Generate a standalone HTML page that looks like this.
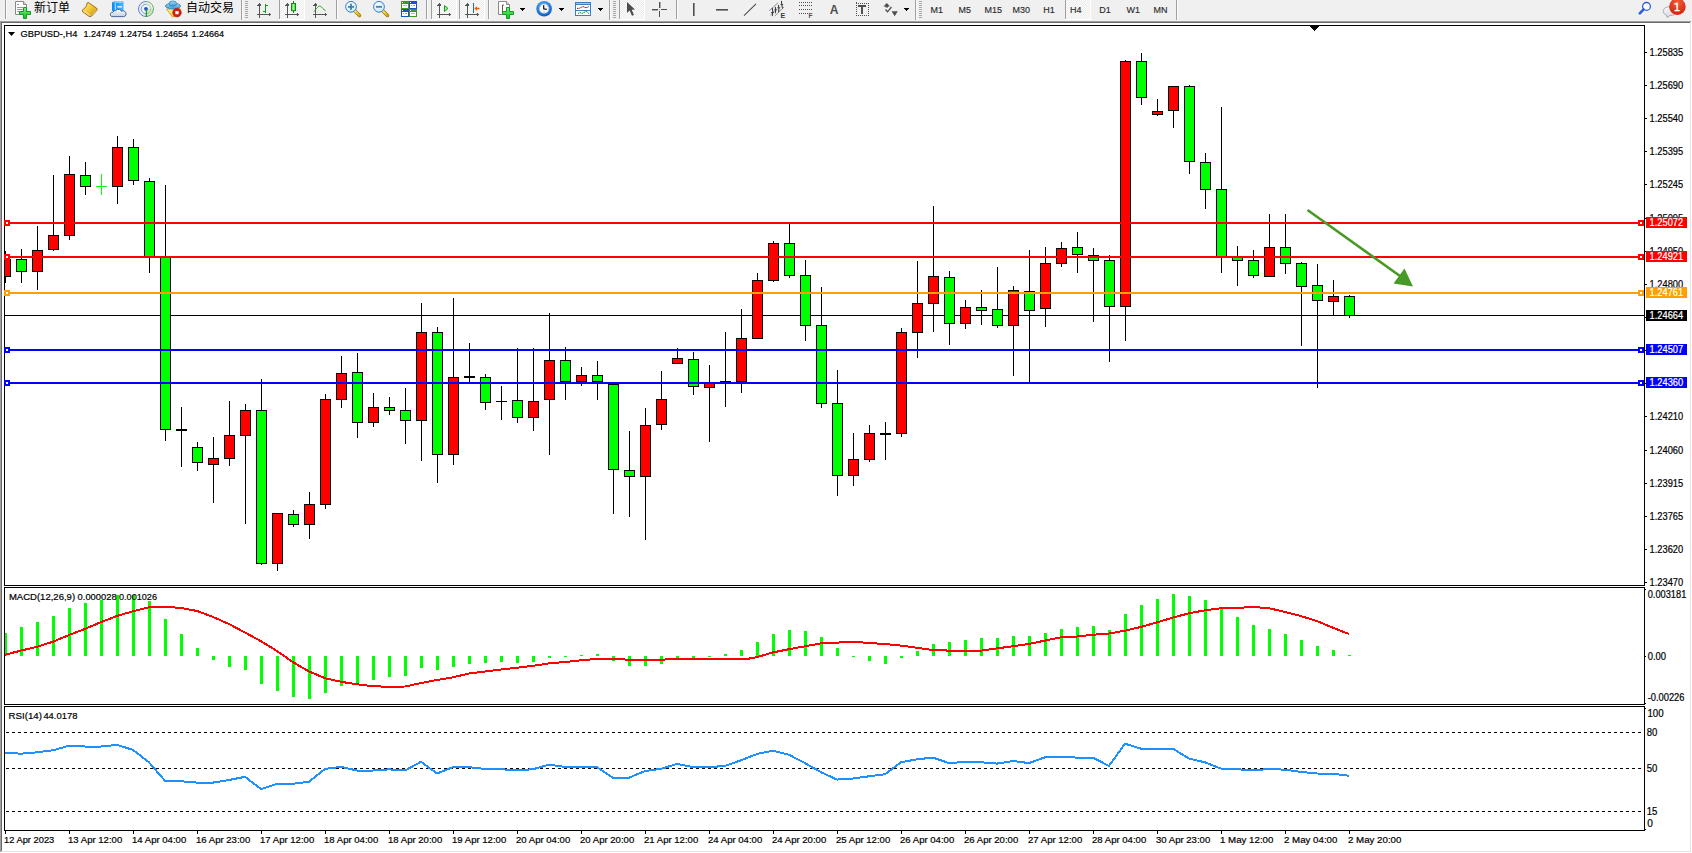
<!DOCTYPE html>
<html><head><meta charset="utf-8"><title>MetaTrader - GBPUSD-,H4</title>
<style>
html,body{margin:0;padding:0;width:1692px;height:853px;overflow:hidden;background:#f0f0f0}
svg{display:block;position:absolute;left:0;top:0}
</style></head><body>
<svg width="1692" height="853" viewBox="0 0 1692 853">
<rect x="0" y="0" width="1692" height="853" fill="#f0f0f0"/>
<g id="toolbar">
<defs>
<pattern id="chk" width="2" height="2" patternUnits="userSpaceOnUse"><rect width="2" height="2" fill="#ececec"/><rect width="1" height="1" fill="#fdfdfd"/><rect x="1" y="1" width="1" height="1" fill="#fdfdfd"/></pattern>
<linearGradient id="gPlus" x1="0" y1="0" x2="0" y2="1"><stop offset="0" stop-color="#7af27a"/><stop offset="1" stop-color="#0fbf1f"/></linearGradient>
<linearGradient id="gGold" x1="0" y1="0" x2="1" y2="1"><stop offset="0" stop-color="#fff0a0"/><stop offset="0.5" stop-color="#f0c830"/><stop offset="1" stop-color="#c08a18"/></linearGradient>
<linearGradient id="gBox" x1="0" y1="0" x2="1" y2="0"><stop offset="0" stop-color="#0a8cf0"/><stop offset="1" stop-color="#46b4ff"/></linearGradient>
<linearGradient id="gCloud" x1="0" y1="0" x2="0" y2="1"><stop offset="0" stop-color="#ffffff"/><stop offset="1" stop-color="#c3cde0"/></linearGradient>
<linearGradient id="gHat" x1="0" y1="0" x2="0" y2="1"><stop offset="0" stop-color="#a8dcf8"/><stop offset="1" stop-color="#3c98d0"/></linearGradient>
<linearGradient id="gCone" x1="0" y1="0" x2="0" y2="1"><stop offset="0" stop-color="#fff4a0"/><stop offset="1" stop-color="#f0c820"/></linearGradient>
<linearGradient id="gCandle" x1="0" y1="0" x2="1" y2="0"><stop offset="0" stop-color="#30d030"/><stop offset="0.5" stop-color="#a0ffa0"/><stop offset="1" stop-color="#20c020"/></linearGradient>
<radialGradient id="gLens" cx="0.4" cy="0.35" r="0.7"><stop offset="0" stop-color="#ffffff"/><stop offset="1" stop-color="#bfe6fb"/></radialGradient>
<linearGradient id="gHandle" x1="0" y1="0" x2="1" y2="1"><stop offset="0" stop-color="#fff27a"/><stop offset="1" stop-color="#d6a800"/></linearGradient>
<radialGradient id="gClock" cx="0.45" cy="0.35" r="0.65"><stop offset="0" stop-color="#5ec0ff"/><stop offset="1" stop-color="#0a5cc8"/></radialGradient>
<radialGradient id="gBadge" cx="0.5" cy="0.25" r="0.8"><stop offset="0" stop-color="#f0603a"/><stop offset="1" stop-color="#d21e08"/></radialGradient>
<linearGradient id="gBubble" x1="0" y1="0" x2="0" y2="1"><stop offset="0" stop-color="#fafafa"/><stop offset="1" stop-color="#d4d6e6"/></linearGradient>
</defs>
<rect x="0" y="20" width="1692" height="1" fill="#f7f7f7"/>

<!-- separators -->
<g shape-rendering="crispEdges" fill="#a0a0a0">
<rect x="5" y="0" width="1" height="19"/>
<rect x="241" y="0" width="1" height="21"/>
<rect x="336" y="0" width="1" height="19"/>
<rect x="426" y="0" width="1" height="19"/>
<rect x="488" y="0" width="1" height="19"/>
<rect x="609" y="0" width="1" height="21"/>
<rect x="676" y="0" width="1" height="19"/>
<rect x="915" y="0" width="1" height="21"/>
<rect x="1176" y="0" width="1" height="21"/>
</g>
<g shape-rendering="crispEdges" fill="#fbfbfb">
<rect x="6" y="0" width="1" height="19"/>
<rect x="242" y="0" width="1" height="20"/>
<rect x="337" y="0" width="1" height="19"/>
<rect x="427" y="0" width="1" height="19"/>
<rect x="489" y="0" width="1" height="19"/>
<rect x="610" y="0" width="1" height="20"/>
<rect x="677" y="0" width="1" height="19"/>
<rect x="916" y="0" width="1" height="20"/>
<rect x="1177" y="0" width="1" height="20"/>
</g>
<!-- grips -->
<g shape-rendering="crispEdges" fill="#a8a8a8">
<path d="M245 1h3v1h-3zM245 3h3v1h-3zM245 5h3v1h-3zM245 7h3v1h-3zM245 9h3v1h-3zM245 11h3v1h-3zM245 13h3v1h-3zM245 15h3v1h-3zM245 17h3v1h-3z"/>
<path d="M613 1h3v1h-3zM613 3h3v1h-3zM613 5h3v1h-3zM613 7h3v1h-3zM613 9h3v1h-3zM613 11h3v1h-3zM613 13h3v1h-3zM613 15h3v1h-3zM613 17h3v1h-3z"/>
<path d="M919 1h3v1h-3zM919 3h3v1h-3zM919 5h3v1h-3zM919 7h3v1h-3zM919 9h3v1h-3zM919 11h3v1h-3zM919 13h3v1h-3zM919 15h3v1h-3zM919 17h3v1h-3z"/>
</g>
<!-- pressed buttons -->
<g shape-rendering="crispEdges">
<rect x="279" y="0" width="25" height="19" fill="url(#chk)"/><rect x="279" y="0" width="1" height="19" fill="#a0a0a0"/><rect x="279" y="19" width="26" height="1" fill="#fff"/><rect x="304" y="0" width="1" height="20" fill="#fff"/>
<rect x="431" y="0" width="25" height="19" fill="url(#chk)"/><rect x="431" y="0" width="1" height="19" fill="#a0a0a0"/><rect x="431" y="19" width="26" height="1" fill="#fff"/><rect x="456" y="0" width="1" height="20" fill="#fff"/>
<rect x="459" y="0" width="25" height="19" fill="url(#chk)"/><rect x="459" y="0" width="1" height="19" fill="#a0a0a0"/><rect x="459" y="19" width="26" height="1" fill="#fff"/><rect x="484" y="0" width="1" height="20" fill="#fff"/>
<rect x="619" y="0" width="25" height="19" fill="url(#chk)"/><rect x="619" y="0" width="1" height="19" fill="#a0a0a0"/><rect x="619" y="19" width="26" height="1" fill="#fff"/><rect x="644" y="0" width="1" height="20" fill="#fff"/>
<rect x="1065" y="0" width="25" height="19" fill="url(#chk)"/><rect x="1065" y="0" width="1" height="19" fill="#a0a0a0"/><rect x="1065" y="19" width="26" height="1" fill="#fff"/><rect x="1090" y="0" width="1" height="20" fill="#fff"/>
</g>

<!-- New order icon -->
<g>
<path d="M15.5 1.5h8l3 3v10h-11z" fill="#fff" stroke="#8a8a8a"/>
<path d="M23.5 1.5v3h3" fill="#ddd" stroke="#8a8a8a"/>
<path d="M17 4h2v1h-2zM17 7h6v1h-6zM17 9h6v1h-6zM17 11h5v1h-5z" fill="#9a9a9a"/>
<path d="M23.5 7.5h3v4h4v3h-4v4h-3v-4h-4v-3h4z" fill="url(#gPlus)" stroke="#169a2a"/>
</g>
<text x="34" y="12.2" font-family='"Liberation Sans","Noto Sans CJK SC",sans-serif' font-size="12px" fill="#000">新订单</text>

<!-- gold book -->
<g>
<path d="M88 2.3 L96.6 8.2 Q97.6 9.2 96.8 10.4 L91.6 16.1 Q90.3 17.1 89 16.3 L82.8 11.9 Q81.8 10.9 82.8 9.8 L85.8 6.8 Q86.8 5.4 87.1 3.1 Z" fill="url(#gGold)" stroke="#9a5c12" stroke-width="0.9"/>
<path d="M83.6 11 L90.2 15.6" stroke="#f8e7a0" stroke-width="1.2" opacity="0.8"/>
<path d="M91.8 15.3 L96.4 10.2" stroke="#efe6c0" stroke-width="1" stroke-dasharray="0.8 0.5"/>
</g>

<!-- blue box with cloud -->
<g>
<path d="M112 2.2 L114.6 1.2 L123.5 1.6 L123.5 11 L112 11 Z" fill="url(#gBox)"/>
<path d="M112 2.2 L114.6 1.2 L123.5 1.6 L121 3.2 Z" fill="#8ad6ff"/>
<path d="M115.3 3.2 v7.5" stroke="#d0f0ff" stroke-width="0.9"/>
<path d="M117.4 6.2h4.6v1.3h-4.6z" fill="#fff"/>
<path d="M111.6 16.6 Q109.8 15.6 110.5 13.4 Q111.2 11.8 113 12.3 Q113.5 10.2 115.8 10.6 Q117.1 8.8 119.5 9.5 Q121.1 9.7 121.5 11.4 Q123.1 9.9 124.7 11.3 Q126.7 12.6 125.9 15.1 Q125.4 16.6 123.5 16.6 Z" fill="url(#gCloud)" stroke="#3e5a94" stroke-width="0.9"/>
</g>

<!-- radar -->
<g fill="none">
<path d="M146 9 L146 17 A8 8 0 0 0 154 9 Z" fill="#b6dcae" opacity="0.55" stroke="none"/>
<path d="M146 1.5 A7.5 7.5 0 0 0 146 16.5" stroke="#3c6fd6" stroke-width="1" opacity="0.85"/>
<path d="M146 1.5 A7.5 7.5 0 0 1 146 16.5" stroke="#58a058" stroke-width="1" opacity="0.85"/>
<path d="M146 4.2 A4.8 4.8 0 0 0 146 13.8" stroke="#4d7fd8" stroke-width="1" opacity="0.7"/>
<path d="M146 4.2 A4.8 4.8 0 0 1 146 13.8" stroke="#8cc48c" stroke-width="1" opacity="0.8"/>
<circle cx="146" cy="8.8" r="1.9" fill="#2450c8"/>
<path d="M146.4 9.3 V17" stroke="#1ca01c" stroke-width="1.3"/>
</g>

<!-- auto trading -->
<g>
<path d="M166.5 9 L180.5 9 L175 16.5 Q173.5 17.5 172 16.5 Z" fill="url(#gCone)" stroke="#c89a20" stroke-width="0.8"/>
<ellipse cx="173" cy="6" rx="7.6" ry="2.8" fill="url(#gHat)" stroke="#2c82bd" stroke-width="0.8"/>
<ellipse cx="172.8" cy="3.6" rx="3.8" ry="2.6" fill="url(#gHat)" stroke="#2c82bd" stroke-width="0.8"/>
<circle cx="177" cy="12.6" r="4.3" fill="#d41f0c" stroke="#b01500" stroke-width="0.6"/>
<rect x="175.4" y="11" width="3.2" height="3.2" fill="#fff"/>
</g>
<text x="186" y="12.2" font-family='"Liberation Sans","Noto Sans CJK SC",sans-serif' font-size="12px" fill="#000">自动交易</text>

<!-- bar chart icon -->
<g shape-rendering="crispEdges" fill="#555">
<rect x="259" y="4" width="1" height="14"/><rect x="257" y="14" width="13" height="1"/>
<path d="M257.5 5.5 L259.5 2.5 L261.5 5.5Z"/><path d="M268.5 12 L271.5 14.5 L268.5 17Z"/>
</g>
<g shape-rendering="crispEdges" fill="#139a13">
<rect x="265" y="4" width="1" height="9"/><rect x="266" y="5" width="2" height="1"/><rect x="263" y="11" width="2" height="1"/>
</g>
<!-- candle icon -->
<g shape-rendering="crispEdges" fill="#555">
<rect x="287" y="4" width="1" height="14"/><rect x="285" y="14" width="13" height="1"/>
<path d="M285.5 5.5 L287.5 2.5 L289.5 5.5Z"/><path d="M296.5 12 L299.5 14.5 L296.5 17Z"/>
</g>
<rect x="293" y="1" width="1" height="12" fill="#0e8e0e" shape-rendering="crispEdges"/>
<rect x="291.5" y="3.5" width="4" height="7.2" fill="url(#gCandle)" stroke="#0e8e0e" stroke-width="1"/>
<!-- line chart icon -->
<g shape-rendering="crispEdges" fill="#555">
<rect x="315" y="4" width="1" height="14"/><rect x="313" y="14" width="13" height="1"/>
<path d="M313.5 5.5 L315.5 2.5 L317.5 5.5Z"/><path d="M324.5 12 L327.5 14.5 L324.5 17Z"/>
</g>
<path d="M314 11.6 C316.5 8.5 318.5 5.5 320.2 6.2 C322 7 323.5 9.8 325.5 10.5" fill="none" stroke="#2ea02e" stroke-width="1"/>

<!-- zoom in / out -->
<g>
<path d="M354.5 10.5 L359.5 15.5" stroke="#a07800" stroke-width="3.4" stroke-linecap="round"/>
<path d="M354.5 10.5 L359.5 15.5" stroke="url(#gHandle)" stroke-width="2" stroke-linecap="round"/>
<circle cx="351" cy="6.8" r="5.4" fill="url(#gLens)" stroke="#3a7fd0" stroke-width="1"/>
<path d="M348 6.8h6M351 3.8v6" stroke="#3f7fa8" stroke-width="1.8"/>
<path d="M382.5 10.5 L387.5 15.5" stroke="#a07800" stroke-width="3.4" stroke-linecap="round"/>
<path d="M382.5 10.5 L387.5 15.5" stroke="url(#gHandle)" stroke-width="2" stroke-linecap="round"/>
<circle cx="379" cy="6.8" r="5.4" fill="url(#gLens)" stroke="#3a7fd0" stroke-width="1"/>
<path d="M376 6.8h6" stroke="#3f7fa8" stroke-width="1.8"/>
</g>

<!-- tile windows -->
<g shape-rendering="crispEdges">
<rect x="401" y="1" width="8" height="8" fill="#3c9a1e"/><rect x="409" y="1" width="8" height="8" fill="#1e4ed0"/>
<rect x="401" y="9" width="8" height="8" fill="#1e4ed0"/><rect x="409" y="9" width="8" height="8" fill="#3c9a1e"/>
<rect x="402" y="2" width="1" height="1" fill="#fff"/><rect x="410" y="2" width="1" height="1" fill="#fff"/>
<rect x="402" y="10" width="1" height="1" fill="#fff"/><rect x="410" y="10" width="1" height="1" fill="#fff"/>
<rect x="402" y="4" width="6" height="4" fill="#fff"/><rect x="410" y="4" width="6" height="4" fill="#fff"/>
<rect x="402" y="12" width="6" height="4" fill="#fff"/><rect x="410" y="12" width="6" height="4" fill="#fff"/>
<rect x="403" y="5" width="4" height="1" fill="#9ad08a"/><rect x="411" y="5" width="1" height="1" fill="#7a9ee8"/><rect x="413" y="5" width="2" height="1" fill="#7a9ee8"/>
<rect x="403" y="13" width="1" height="1" fill="#7a9ee8"/><rect x="405" y="13" width="2" height="1" fill="#7a9ee8"/><rect x="411" y="13" width="4" height="1" fill="#9ad08a"/>
</g>

<!-- autoscroll icon -->
<g shape-rendering="crispEdges" fill="#555">
<rect x="439" y="4" width="1" height="14"/><rect x="437" y="14" width="13" height="1"/>
<path d="M437.5 5.5 L439.5 2.5 L441.5 5.5Z"/><path d="M448.5 12 L451.5 14.5 L448.5 17Z"/>
</g>
<path d="M444.5 5.5 L444.5 11.5 L448 8.5 Z" fill="#9be69b" stroke="#18a018" stroke-width="1"/>
<!-- chart shift icon -->
<g shape-rendering="crispEdges" fill="#555">
<rect x="467" y="4" width="1" height="14"/><rect x="465" y="14" width="13" height="1"/>
<path d="M465.5 5.5 L467.5 2.5 L469.5 5.5Z"/><path d="M476.5 12 L479.5 14.5 L476.5 17Z"/>
</g>
<rect x="473" y="3" width="1" height="10" fill="#1f6fae" shape-rendering="crispEdges"/>
<path d="M474.2 8.5 L477 6.3 L477 7.8 L479.5 7.8 L479.5 9.2 L477 9.2 L477 10.7 Z" fill="#e8600c"/>

<!-- new chart icon -->
<g>
<path d="M498.5 1.5h8l3 3v10h-11z" fill="#fff" stroke="#8a8a8a"/>
<path d="M506.5 1.5v3h3" fill="#ddd" stroke="#8a8a8a"/>
<path d="M502.5 5v7M502.5 5h1.5M502.5 12h1.5" stroke="#6a5a40" stroke-width="1" fill="none"/>
<path d="M506.5 7.5h3v4h4v3h-4v4h-3v-4h-4v-3h4z" fill="url(#gPlus)" stroke="#169a2a"/>
</g>
<!-- dropdown arrows -->
<g fill="#000" shape-rendering="crispEdges">
<path d="M520 8h5v1h-5zM521 9h3v1h-3zM522 10h1v1h-1z"/>
<path d="M559 8h5v1h-5zM560 9h3v1h-3zM561 10h1v1h-1z"/>
<path d="M598 8h5v1h-5zM599 9h3v1h-3zM600 10h1v1h-1z"/>
<path d="M904 8h5v1h-5zM905 9h3v1h-3zM906 10h1v1h-1z"/>
</g>

<!-- clock -->
<g>
<circle cx="544.1" cy="8.7" r="7.8" fill="url(#gClock)"/>
<circle cx="544.1" cy="8.7" r="5.1" fill="#fbfbfb" stroke="#2b6fc0" stroke-width="0.5"/>
<g fill="#9a9a9a"><circle cx="544.1" cy="4.3" r="0.45"/><circle cx="548.5" cy="8.7" r="0.45"/><circle cx="539.7" cy="8.7" r="0.45"/><circle cx="546.3" cy="4.9" r="0.4"/><circle cx="547.9" cy="6.5" r="0.4"/><circle cx="547.9" cy="10.9" r="0.4"/><circle cx="546.3" cy="12.5" r="0.4"/><circle cx="541.9" cy="12.5" r="0.4"/><circle cx="540.3" cy="10.9" r="0.4"/><circle cx="540.3" cy="6.5" r="0.4"/><circle cx="541.9" cy="4.9" r="0.4"/></g>
<path d="M543.6 5.2 L543.8 8.9 L546.8 9.3" fill="none" stroke="#151515" stroke-width="1.3" stroke-linejoin="round"/>
<path d="M543.3 12.1h1.8" stroke="#5ab0f0" stroke-width="0.7"/>
</g>

<!-- template icon -->
<g shape-rendering="crispEdges">
<rect x="575" y="2" width="16" height="14" fill="#3f7cc6"/>
<rect x="576" y="3" width="14" height="1" fill="#9cc6f0"/>
<rect x="576" y="5" width="14" height="5" fill="#fff"/>
<rect x="576" y="11" width="14" height="4" fill="#fff"/>
</g>
<path d="M577 8.4 L579 8.4 L581 7.4 L583 6.5 L585 7.5 L587 7.5 L589 6.5" fill="none" stroke="#9a1c08" stroke-width="1" stroke-dasharray="1.6 0.6"/>
<path d="M578 13.4 L580 12.6 L582 13.4 L584 12.4 L586 11.3 L587.5 12.4 L589 13.6" fill="none" stroke="#148a14" stroke-width="1" stroke-dasharray="1.6 0.6"/>

<!-- cursor -->
<path d="M627 2 L627 13 L629.6 10.6 L632 15.8 L634 14.9 L631.7 9.8 L635 9.6 Z" fill="#4e4e4e"/>
<!-- crosshair -->
<g shape-rendering="crispEdges" fill="#4e4e4e">
<rect x="652" y="9" width="6" height="1"/><rect x="661" y="9" width="6" height="1"/>
<rect x="659" y="2" width="1" height="6"/><rect x="659" y="11" width="1" height="6"/>
<rect x="659" y="9" width="1" height="1" fill="#999"/>
</g>
<g fill="#6a6a6a" shape-rendering="crispEdges">
<rect x="652" y="10" width="6" height="0.5" opacity="0.5"/><rect x="660" y="2" width="0.5" height="6" opacity="0.5"/>
</g>
<!-- vertical / horizontal / trend line -->
<g shape-rendering="crispEdges" fill="#4e4e4e">
<rect x="693" y="3" width="1" height="13"/><rect x="694" y="3" width="0.5" height="13" opacity="0.6"/>
<rect x="716" y="9" width="12" height="1"/><rect x="716" y="10" width="12" height="0.5" opacity="0.6"/>
</g>
<path d="M744 15.6 L756 3.8" stroke="#4e4e4e" stroke-width="1.1"/>
<!-- equidistant channel -->
<g fill="none" stroke-linecap="round">
<path d="M769.5 10.5 L777.7 3M770.8 14.6 L774.5 11.2M775.1 15.7 L783.8 7.3" stroke="#7a7a7a" stroke-width="0.8"/>
<path d="M772.3 8.4 L772.8 12.2 L772.3 15.7M775.4 7.3 L775.7 9.6 L775.4 12.7M778.4 5.4 L778.9 7.9 L778.7 11.7M781.5 1.2 L781.7 4.2 L782.4 8" stroke="#3a3a3a" stroke-width="1.1"/>
<path d="M771.3 12.5h2.2M774.5 9.8h2.2M777.6 7.8h2.2M780.7 4.6h2.2" stroke="#3a3a3a" stroke-width="0.8"/>
</g>
<text x="780.6" y="17.8" font-family='"Liberation Sans",sans-serif' font-size="7px" font-weight="bold" fill="#3a3a3a">E</text>
<!-- fibonacci -->
<g fill="#4e4e4e" shape-rendering="crispEdges">
<path d="M799 2h1v1h-1zM801 2h1v1h-1zM803 2h1v1h-1zM805 2h1v1h-1zM807 2h1v1h-1zM809 2h1v1h-1zM811 2h1v1h-1z"/>
<path d="M799 5h1v1h-1zM801 5h1v1h-1zM803 5h1v1h-1zM805 5h1v1h-1zM807 5h1v1h-1zM809 5h1v1h-1zM811 5h1v1h-1z"/>
<path d="M799 9h1v1h-1zM801 9h1v1h-1zM803 9h1v1h-1zM805 9h1v1h-1zM807 9h1v1h-1zM809 9h1v1h-1zM811 9h1v1h-1z"/>
<path d="M799 13h1v1h-1zM801 13h1v1h-1zM803 13h1v1h-1zM805 13h1v1h-1zM807 13h1v1h-1z"/>
</g>
<text x="808.6" y="17.6" font-family='"Liberation Sans",sans-serif' font-size="6.5px" font-weight="bold" fill="#4e4e4e">F</text>
<!-- text A -->
<text x="829.8" y="14" font-family='"Liberation Sans",sans-serif' font-size="12px" font-weight="bold" fill="#4e4e4e">A</text>
<!-- text label -->
<g fill="#4e4e4e" shape-rendering="crispEdges">
<path d="M856 3h1v1h-1zM858 3h1v1h-1zM860 3h1v1h-1zM862 3h1v1h-1zM864 3h1v1h-1zM866 3h1v1h-1zM868 3h1v1h-1z"/>
<path d="M856 15h1v1h-1zM858 15h1v1h-1zM860 15h1v1h-1zM862 15h1v1h-1zM864 15h1v1h-1zM866 15h1v1h-1zM868 15h1v1h-1z"/>
<path d="M856 5h1v1h-1zM856 7h1v1h-1zM856 9h1v1h-1zM856 11h1v1h-1zM856 13h1v1h-1z"/>
<path d="M868 5h1v1h-1zM868 7h1v1h-1zM868 9h1v1h-1zM868 11h1v1h-1zM868 13h1v1h-1z"/>
<rect x="855.5" y="2" width="1.5" height="1.5"/>
<rect x="858" y="5" width="8" height="1.6"/><rect x="861.2" y="5" width="1.7" height="8.6"/>
</g>
<!-- arrows icon -->
<g fill="#4e4e4e">
<path d="M883.5 6.5 L886.8 3 L890 6.5 L888 6.5 L888 7.5 L885.5 7.5 L885.5 6.5 Z"/>
<path d="M892.5 11.5 L897 11.5 L894.7 15.7 Z M891.6 11.2 L897.8 11.2 L894.7 16.2 Z"/>
<path d="M885.5 9.5 L887.5 11.8 L891.5 7" fill="none" stroke="#4e4e4e" stroke-width="1.3"/>
</g>

<!-- timeframes -->
<g font-family='"Liberation Sans",sans-serif' font-size="9.6px" fill="#2a2a2a" stroke="#2a2a2a" stroke-width="0.15">
<text transform="translate(930.5,13) scale(0.9375,1)">M1</text>
<text transform="translate(958.5,13) scale(0.9375,1)">M5</text>
<text transform="translate(984.5,13) scale(0.9375,1)">M15</text>
<text transform="translate(1012.5,13) scale(0.9375,1)">M30</text>
<text transform="translate(1043.2,13) scale(0.9375,1)">H1</text>
<text transform="translate(1070,13) scale(0.9375,1)">H4</text>
<text transform="translate(1099.3,13) scale(0.9375,1)">D1</text>
<text transform="translate(1126.5,13) scale(0.9375,1)">W1</text>
<text transform="translate(1153.4,13) scale(0.9375,1)">MN</text>
</g>

<!-- right icons -->
<g>
<circle cx="1646.5" cy="6.4" r="3.9" fill="#fff" stroke="#2a5fd6" stroke-width="1.3"/>
<path d="M1643.6 9.4 L1639.8 13.4" stroke="#2a5fd6" stroke-width="2.6" stroke-linecap="round"/>
<path d="M1666.8 15.4 Q1663 14 1663.3 10.5 Q1664 6.8 1669.5 6.8 Q1675.5 7 1675.8 11 Q1675.8 15.5 1669.8 15.6 L1667 17.6 Z" fill="url(#gBubble)" stroke="#a4a4a4" stroke-width="0.9"/>
<circle cx="1677.4" cy="6.6" r="8.3" fill="url(#gBadge)"/>
<text x="1673.6" y="10.9" font-family='"DejaVu Sans",sans-serif' font-size="11px" fill="#fff" stroke="#fff" stroke-width="0.35">1</text>
</g>
</g>

<g font-family='"Liberation Sans","Noto Sans CJK SC",sans-serif'>
<rect x="0" y="20" width="1692" height="833" fill="#f0f0f0"/>
<rect x="0" y="21" width="1691" height="1" fill="#a0a0a0"/>
<rect x="0" y="21" width="1" height="831" fill="#a0a0a0"/>
<rect x="1" y="22" width="1689" height="1" fill="#696969"/>
<rect x="1" y="22" width="1" height="829" fill="#696969"/>
<rect x="2" y="23" width="1688" height="828" fill="#ffffff"/>
<rect x="1690" y="22" width="1" height="830" fill="#e3e3e3"/>
<rect x="1" y="851" width="1690" height="1" fill="#e3e3e3"/>
<rect x="1691" y="21" width="1" height="832" fill="#ffffff"/>
<rect x="0" y="852" width="1692" height="1" fill="#ffffff"/>
<g shape-rendering="crispEdges">
<clipPath id="cm"><rect x="5" y="26" width="1639" height="559"/></clipPath>
<clipPath id="cmacd"><rect x="5" y="588" width="1639" height="116"/></clipPath>
<clipPath id="crsi"><rect x="5" y="707" width="1639" height="123"/></clipPath>
<g clip-path="url(#cm)">
<rect x="5" y="315" width="1639" height="1" fill="#000000"/>
<rect x="5" y="251" width="1" height="32" fill="#000000"/>
<rect x="0" y="259" width="11" height="18" fill="#000000"/>
<rect x="1" y="260" width="9" height="16" fill="#ff0000"/>
<rect x="21" y="249" width="1" height="34" fill="#000000"/>
<rect x="16" y="259" width="11" height="13" fill="#000000"/>
<rect x="17" y="260" width="9" height="11" fill="#00ff00"/>
<rect x="37" y="226" width="1" height="64" fill="#000000"/>
<rect x="32" y="250" width="11" height="22" fill="#000000"/>
<rect x="33" y="251" width="9" height="20" fill="#ff0000"/>
<rect x="53" y="175" width="1" height="76" fill="#000000"/>
<rect x="48" y="235" width="11" height="15" fill="#000000"/>
<rect x="49" y="236" width="9" height="13" fill="#ff0000"/>
<rect x="69" y="156" width="1" height="84" fill="#000000"/>
<rect x="64" y="174" width="11" height="62" fill="#000000"/>
<rect x="65" y="175" width="9" height="60" fill="#ff0000"/>
<rect x="85" y="162" width="1" height="33" fill="#000000"/>
<rect x="80" y="175" width="11" height="12" fill="#000000"/>
<rect x="81" y="176" width="9" height="10" fill="#00ff00"/>
<rect x="101" y="174" width="1" height="21" fill="#00ff00"/>
<rect x="96" y="186" width="11" height="1" fill="#00ff00"/>
<rect x="117" y="136" width="1" height="68" fill="#000000"/>
<rect x="112" y="147" width="11" height="40" fill="#000000"/>
<rect x="113" y="148" width="9" height="38" fill="#ff0000"/>
<rect x="133" y="139" width="1" height="46" fill="#000000"/>
<rect x="128" y="147" width="11" height="34" fill="#000000"/>
<rect x="129" y="148" width="9" height="32" fill="#00ff00"/>
<rect x="149" y="178" width="1" height="95" fill="#000000"/>
<rect x="144" y="181" width="11" height="76" fill="#000000"/>
<rect x="145" y="182" width="9" height="74" fill="#00ff00"/>
<rect x="165" y="185" width="1" height="256" fill="#000000"/>
<rect x="160" y="256" width="11" height="174" fill="#000000"/>
<rect x="161" y="257" width="9" height="172" fill="#00ff00"/>
<rect x="181" y="407" width="1" height="60" fill="#000000"/>
<rect x="176" y="429" width="11" height="2" fill="#000000"/>
<rect x="197" y="442" width="1" height="29" fill="#000000"/>
<rect x="192" y="447" width="11" height="16" fill="#000000"/>
<rect x="193" y="448" width="9" height="14" fill="#00ff00"/>
<rect x="213" y="437" width="1" height="66" fill="#000000"/>
<rect x="208" y="458" width="11" height="7" fill="#000000"/>
<rect x="209" y="459" width="9" height="5" fill="#ff0000"/>
<rect x="229" y="401" width="1" height="65" fill="#000000"/>
<rect x="224" y="435" width="11" height="24" fill="#000000"/>
<rect x="225" y="436" width="9" height="22" fill="#ff0000"/>
<rect x="245" y="404" width="1" height="120" fill="#000000"/>
<rect x="240" y="410" width="11" height="26" fill="#000000"/>
<rect x="241" y="411" width="9" height="24" fill="#ff0000"/>
<rect x="261" y="379" width="1" height="186" fill="#000000"/>
<rect x="256" y="410" width="11" height="154" fill="#000000"/>
<rect x="257" y="411" width="9" height="152" fill="#00ff00"/>
<rect x="277" y="513" width="1" height="58" fill="#000000"/>
<rect x="272" y="513" width="11" height="51" fill="#000000"/>
<rect x="273" y="514" width="9" height="49" fill="#ff0000"/>
<rect x="293" y="510" width="1" height="17" fill="#000000"/>
<rect x="288" y="514" width="11" height="11" fill="#000000"/>
<rect x="289" y="515" width="9" height="9" fill="#00ff00"/>
<rect x="309" y="492" width="1" height="47" fill="#000000"/>
<rect x="304" y="504" width="11" height="21" fill="#000000"/>
<rect x="305" y="505" width="9" height="19" fill="#ff0000"/>
<rect x="325" y="394" width="1" height="115" fill="#000000"/>
<rect x="320" y="399" width="11" height="106" fill="#000000"/>
<rect x="321" y="400" width="9" height="104" fill="#ff0000"/>
<rect x="341" y="356" width="1" height="52" fill="#000000"/>
<rect x="336" y="373" width="11" height="27" fill="#000000"/>
<rect x="337" y="374" width="9" height="25" fill="#ff0000"/>
<rect x="357" y="353" width="1" height="85" fill="#000000"/>
<rect x="352" y="372" width="11" height="51" fill="#000000"/>
<rect x="353" y="373" width="9" height="49" fill="#00ff00"/>
<rect x="373" y="393" width="1" height="34" fill="#000000"/>
<rect x="368" y="407" width="11" height="16" fill="#000000"/>
<rect x="369" y="408" width="9" height="14" fill="#ff0000"/>
<rect x="389" y="397" width="1" height="18" fill="#000000"/>
<rect x="384" y="407" width="11" height="4" fill="#000000"/>
<rect x="385" y="408" width="9" height="2" fill="#00ff00"/>
<rect x="405" y="388" width="1" height="56" fill="#000000"/>
<rect x="400" y="410" width="11" height="11" fill="#000000"/>
<rect x="401" y="411" width="9" height="9" fill="#00ff00"/>
<rect x="421" y="303" width="1" height="158" fill="#000000"/>
<rect x="416" y="332" width="11" height="89" fill="#000000"/>
<rect x="417" y="333" width="9" height="87" fill="#ff0000"/>
<rect x="437" y="327" width="1" height="156" fill="#000000"/>
<rect x="432" y="332" width="11" height="123" fill="#000000"/>
<rect x="433" y="333" width="9" height="121" fill="#00ff00"/>
<rect x="453" y="298" width="1" height="167" fill="#000000"/>
<rect x="448" y="377" width="11" height="78" fill="#000000"/>
<rect x="449" y="378" width="9" height="76" fill="#ff0000"/>
<rect x="469" y="343" width="1" height="39" fill="#000000"/>
<rect x="464" y="376" width="11" height="2" fill="#000000"/>
<rect x="485" y="374" width="1" height="36" fill="#000000"/>
<rect x="480" y="377" width="11" height="26" fill="#000000"/>
<rect x="481" y="378" width="9" height="24" fill="#00ff00"/>
<rect x="501" y="386" width="1" height="34" fill="#000000"/>
<rect x="496" y="401" width="11" height="1" fill="#000000"/>
<rect x="517" y="348" width="1" height="75" fill="#000000"/>
<rect x="512" y="400" width="11" height="18" fill="#000000"/>
<rect x="513" y="401" width="9" height="16" fill="#00ff00"/>
<rect x="533" y="348" width="1" height="83" fill="#000000"/>
<rect x="528" y="401" width="11" height="17" fill="#000000"/>
<rect x="529" y="402" width="9" height="15" fill="#ff0000"/>
<rect x="549" y="313" width="1" height="142" fill="#000000"/>
<rect x="544" y="360" width="11" height="40" fill="#000000"/>
<rect x="545" y="361" width="9" height="38" fill="#ff0000"/>
<rect x="565" y="347" width="1" height="53" fill="#000000"/>
<rect x="560" y="360" width="11" height="22" fill="#000000"/>
<rect x="561" y="361" width="9" height="20" fill="#00ff00"/>
<rect x="581" y="367" width="1" height="19" fill="#000000"/>
<rect x="576" y="375" width="11" height="7" fill="#000000"/>
<rect x="577" y="376" width="9" height="5" fill="#ff0000"/>
<rect x="597" y="361" width="1" height="39" fill="#000000"/>
<rect x="592" y="375" width="11" height="7" fill="#000000"/>
<rect x="593" y="376" width="9" height="5" fill="#00ff00"/>
<rect x="613" y="384" width="1" height="130" fill="#000000"/>
<rect x="608" y="384" width="11" height="86" fill="#000000"/>
<rect x="609" y="385" width="9" height="84" fill="#00ff00"/>
<rect x="629" y="431" width="1" height="86" fill="#000000"/>
<rect x="624" y="470" width="11" height="7" fill="#000000"/>
<rect x="625" y="471" width="9" height="5" fill="#00ff00"/>
<rect x="645" y="408" width="1" height="132" fill="#000000"/>
<rect x="640" y="425" width="11" height="52" fill="#000000"/>
<rect x="641" y="426" width="9" height="50" fill="#ff0000"/>
<rect x="661" y="371" width="1" height="59" fill="#000000"/>
<rect x="656" y="399" width="11" height="26" fill="#000000"/>
<rect x="657" y="400" width="9" height="24" fill="#ff0000"/>
<rect x="677" y="348" width="1" height="16" fill="#000000"/>
<rect x="672" y="358" width="11" height="6" fill="#000000"/>
<rect x="673" y="359" width="9" height="4" fill="#ff0000"/>
<rect x="693" y="352" width="1" height="43" fill="#000000"/>
<rect x="688" y="359" width="11" height="28" fill="#000000"/>
<rect x="689" y="360" width="9" height="26" fill="#00ff00"/>
<rect x="709" y="365" width="1" height="77" fill="#000000"/>
<rect x="704" y="383" width="11" height="5" fill="#000000"/>
<rect x="705" y="384" width="9" height="3" fill="#ff0000"/>
<rect x="725" y="332" width="1" height="75" fill="#000000"/>
<rect x="720" y="381" width="11" height="1" fill="#000000"/>
<rect x="741" y="309" width="1" height="84" fill="#000000"/>
<rect x="736" y="338" width="11" height="44" fill="#000000"/>
<rect x="737" y="339" width="9" height="42" fill="#ff0000"/>
<rect x="757" y="273" width="1" height="65" fill="#000000"/>
<rect x="752" y="280" width="11" height="59" fill="#000000"/>
<rect x="753" y="281" width="9" height="57" fill="#ff0000"/>
<rect x="773" y="241" width="1" height="41" fill="#000000"/>
<rect x="768" y="243" width="11" height="38" fill="#000000"/>
<rect x="769" y="244" width="9" height="36" fill="#ff0000"/>
<rect x="789" y="223" width="1" height="55" fill="#000000"/>
<rect x="784" y="243" width="11" height="33" fill="#000000"/>
<rect x="785" y="244" width="9" height="31" fill="#00ff00"/>
<rect x="805" y="260" width="1" height="81" fill="#000000"/>
<rect x="800" y="275" width="11" height="51" fill="#000000"/>
<rect x="801" y="276" width="9" height="49" fill="#00ff00"/>
<rect x="821" y="287" width="1" height="121" fill="#000000"/>
<rect x="816" y="325" width="11" height="79" fill="#000000"/>
<rect x="817" y="326" width="9" height="77" fill="#00ff00"/>
<rect x="837" y="370" width="1" height="126" fill="#000000"/>
<rect x="832" y="403" width="11" height="73" fill="#000000"/>
<rect x="833" y="404" width="9" height="71" fill="#00ff00"/>
<rect x="853" y="433" width="1" height="53" fill="#000000"/>
<rect x="848" y="459" width="11" height="17" fill="#000000"/>
<rect x="849" y="460" width="9" height="15" fill="#ff0000"/>
<rect x="869" y="425" width="1" height="37" fill="#000000"/>
<rect x="864" y="433" width="11" height="27" fill="#000000"/>
<rect x="865" y="434" width="9" height="25" fill="#ff0000"/>
<rect x="885" y="422" width="1" height="38" fill="#000000"/>
<rect x="880" y="433" width="11" height="2" fill="#000000"/>
<rect x="901" y="328" width="1" height="109" fill="#000000"/>
<rect x="896" y="332" width="11" height="102" fill="#000000"/>
<rect x="897" y="333" width="9" height="100" fill="#ff0000"/>
<rect x="917" y="261" width="1" height="97" fill="#000000"/>
<rect x="912" y="303" width="11" height="30" fill="#000000"/>
<rect x="913" y="304" width="9" height="28" fill="#ff0000"/>
<rect x="933" y="206" width="1" height="126" fill="#000000"/>
<rect x="928" y="276" width="11" height="28" fill="#000000"/>
<rect x="929" y="277" width="9" height="26" fill="#ff0000"/>
<rect x="949" y="271" width="1" height="74" fill="#000000"/>
<rect x="944" y="277" width="11" height="47" fill="#000000"/>
<rect x="945" y="278" width="9" height="45" fill="#00ff00"/>
<rect x="965" y="300" width="1" height="29" fill="#000000"/>
<rect x="960" y="307" width="11" height="17" fill="#000000"/>
<rect x="961" y="308" width="9" height="15" fill="#ff0000"/>
<rect x="981" y="290" width="1" height="35" fill="#000000"/>
<rect x="976" y="307" width="11" height="4" fill="#000000"/>
<rect x="977" y="308" width="9" height="2" fill="#00ff00"/>
<rect x="997" y="267" width="1" height="61" fill="#000000"/>
<rect x="992" y="309" width="11" height="17" fill="#000000"/>
<rect x="993" y="310" width="9" height="15" fill="#00ff00"/>
<rect x="1013" y="286" width="1" height="90" fill="#000000"/>
<rect x="1008" y="290" width="11" height="36" fill="#000000"/>
<rect x="1009" y="291" width="9" height="34" fill="#ff0000"/>
<rect x="1029" y="250" width="1" height="132" fill="#000000"/>
<rect x="1024" y="291" width="11" height="20" fill="#000000"/>
<rect x="1025" y="292" width="9" height="18" fill="#00ff00"/>
<rect x="1045" y="247" width="1" height="80" fill="#000000"/>
<rect x="1040" y="263" width="11" height="46" fill="#000000"/>
<rect x="1041" y="264" width="9" height="44" fill="#ff0000"/>
<rect x="1061" y="242" width="1" height="25" fill="#000000"/>
<rect x="1056" y="248" width="11" height="16" fill="#000000"/>
<rect x="1057" y="249" width="9" height="14" fill="#ff0000"/>
<rect x="1077" y="232" width="1" height="41" fill="#000000"/>
<rect x="1072" y="247" width="11" height="8" fill="#000000"/>
<rect x="1073" y="248" width="9" height="6" fill="#00ff00"/>
<rect x="1093" y="248" width="1" height="74" fill="#000000"/>
<rect x="1088" y="255" width="11" height="6" fill="#000000"/>
<rect x="1089" y="256" width="9" height="4" fill="#00ff00"/>
<rect x="1109" y="255" width="1" height="107" fill="#000000"/>
<rect x="1104" y="260" width="11" height="47" fill="#000000"/>
<rect x="1105" y="261" width="9" height="45" fill="#00ff00"/>
<rect x="1125" y="60" width="1" height="281" fill="#000000"/>
<rect x="1120" y="61" width="11" height="246" fill="#000000"/>
<rect x="1121" y="62" width="9" height="244" fill="#ff0000"/>
<rect x="1141" y="53" width="1" height="52" fill="#000000"/>
<rect x="1136" y="61" width="11" height="37" fill="#000000"/>
<rect x="1137" y="62" width="9" height="35" fill="#00ff00"/>
<rect x="1157" y="99" width="1" height="17" fill="#000000"/>
<rect x="1152" y="111" width="11" height="4" fill="#000000"/>
<rect x="1153" y="112" width="9" height="2" fill="#ff0000"/>
<rect x="1173" y="86" width="1" height="42" fill="#000000"/>
<rect x="1168" y="86" width="11" height="25" fill="#000000"/>
<rect x="1169" y="87" width="9" height="23" fill="#ff0000"/>
<rect x="1189" y="85" width="1" height="89" fill="#000000"/>
<rect x="1184" y="86" width="11" height="76" fill="#000000"/>
<rect x="1185" y="87" width="9" height="74" fill="#00ff00"/>
<rect x="1205" y="153" width="1" height="56" fill="#000000"/>
<rect x="1200" y="162" width="11" height="28" fill="#000000"/>
<rect x="1201" y="163" width="9" height="26" fill="#00ff00"/>
<rect x="1221" y="107" width="1" height="166" fill="#000000"/>
<rect x="1216" y="189" width="11" height="68" fill="#000000"/>
<rect x="1217" y="190" width="9" height="66" fill="#00ff00"/>
<rect x="1237" y="246" width="1" height="40" fill="#000000"/>
<rect x="1232" y="257" width="11" height="4" fill="#000000"/>
<rect x="1233" y="258" width="9" height="2" fill="#00ff00"/>
<rect x="1253" y="250" width="1" height="28" fill="#000000"/>
<rect x="1248" y="260" width="11" height="16" fill="#000000"/>
<rect x="1249" y="261" width="9" height="14" fill="#00ff00"/>
<rect x="1269" y="214" width="1" height="62" fill="#000000"/>
<rect x="1264" y="247" width="11" height="30" fill="#000000"/>
<rect x="1265" y="248" width="9" height="28" fill="#ff0000"/>
<rect x="1285" y="214" width="1" height="60" fill="#000000"/>
<rect x="1280" y="247" width="11" height="17" fill="#000000"/>
<rect x="1281" y="248" width="9" height="15" fill="#00ff00"/>
<rect x="1301" y="262" width="1" height="84" fill="#000000"/>
<rect x="1296" y="263" width="11" height="24" fill="#000000"/>
<rect x="1297" y="264" width="9" height="22" fill="#00ff00"/>
<rect x="1317" y="264" width="1" height="124" fill="#000000"/>
<rect x="1312" y="285" width="11" height="16" fill="#000000"/>
<rect x="1313" y="286" width="9" height="14" fill="#00ff00"/>
<rect x="1333" y="280" width="1" height="35" fill="#000000"/>
<rect x="1328" y="296" width="11" height="6" fill="#000000"/>
<rect x="1329" y="297" width="9" height="4" fill="#ff0000"/>
<rect x="1349" y="295" width="1" height="23" fill="#000000"/>
<rect x="1344" y="296" width="11" height="20" fill="#000000"/>
<rect x="1345" y="297" width="9" height="18" fill="#00ff00"/>
<rect x="5" y="222" width="1639" height="2" fill="#ff0000"/>
<rect x="5" y="256" width="1639" height="2" fill="#ff0000"/>
<rect x="5" y="292" width="1639" height="2" fill="#ffa000"/>
<rect x="5" y="349" width="1639" height="2" fill="#0000ff"/>
<rect x="5" y="382" width="1639" height="2" fill="#0000ff"/>
</g>
<rect x="1638" y="220" width="6" height="6" fill="#ff0000"/>
<rect x="1640" y="222" width="2" height="2" fill="#ffffff"/>
<rect x="1638" y="254" width="6" height="6" fill="#ff0000"/>
<rect x="1640" y="256" width="2" height="2" fill="#ffffff"/>
<rect x="1638" y="290" width="6" height="6" fill="#ffa000"/>
<rect x="1640" y="292" width="2" height="2" fill="#ffffff"/>
<rect x="1638" y="347" width="6" height="6" fill="#0000ff"/>
<rect x="1640" y="349" width="2" height="2" fill="#ffffff"/>
<rect x="1638" y="380" width="6" height="6" fill="#0000ff"/>
<rect x="1640" y="382" width="2" height="2" fill="#ffffff"/>
</g>
<g clip-path="url(#cm)"><line x1="1307.5" y1="210" x2="1400" y2="276" stroke="#489a26" stroke-width="2.6" stroke-linecap="butt"/><polygon points="1404.5,268.5 1393.5,283.5 1413,286.5" fill="#489a26"/></g>
<g shape-rendering="crispEdges">
<rect x="1310" y="26" width="9" height="1" fill="#000"/>
<rect x="1311" y="27" width="7" height="1" fill="#000"/>
<rect x="1312" y="28" width="5" height="1" fill="#000"/>
<rect x="1313" y="29" width="3" height="1" fill="#000"/>
<rect x="1314" y="30" width="1" height="1" fill="#000"/>
<rect x="4" y="25" width="1641" height="1" fill="#000"/>
<rect x="4" y="585" width="1641" height="1" fill="#000"/>
<rect x="4" y="25" width="1" height="561" fill="#000"/>
<rect x="1644" y="25" width="1" height="561" fill="#000"/>
<rect x="4" y="587" width="1641" height="1" fill="#000"/>
<rect x="4" y="704" width="1641" height="1" fill="#000"/>
<rect x="4" y="587" width="1" height="118" fill="#000"/>
<rect x="1644" y="587" width="1" height="118" fill="#000"/>
<rect x="4" y="706" width="1641" height="1" fill="#000"/>
<rect x="4" y="830" width="1641" height="1" fill="#000"/>
<rect x="4" y="706" width="1" height="125" fill="#000"/>
<rect x="1644" y="706" width="1" height="125" fill="#000"/>
<rect x="4" y="220" width="6" height="6" fill="#ff0000"/>
<rect x="6" y="222" width="2" height="2" fill="#ffffff"/>
<rect x="4" y="254" width="6" height="6" fill="#ff0000"/>
<rect x="6" y="256" width="2" height="2" fill="#ffffff"/>
<rect x="4" y="290" width="6" height="6" fill="#ffa000"/>
<rect x="6" y="292" width="2" height="2" fill="#ffffff"/>
<rect x="4" y="347" width="6" height="6" fill="#0000ff"/>
<rect x="6" y="349" width="2" height="2" fill="#ffffff"/>
<rect x="4" y="380" width="6" height="6" fill="#0000ff"/>
<rect x="6" y="382" width="2" height="2" fill="#ffffff"/>
<rect x="1645" y="52" width="2" height="1" fill="#000"/>
<rect x="1645" y="85" width="2" height="1" fill="#000"/>
<rect x="1645" y="118" width="2" height="1" fill="#000"/>
<rect x="1645" y="151" width="2" height="1" fill="#000"/>
<rect x="1645" y="184" width="2" height="1" fill="#000"/>
<rect x="1645" y="218" width="2" height="1" fill="#000"/>
<rect x="1645" y="251" width="2" height="1" fill="#000"/>
<rect x="1645" y="284" width="2" height="1" fill="#000"/>
<rect x="1645" y="317" width="2" height="1" fill="#000"/>
<rect x="1645" y="350" width="2" height="1" fill="#000"/>
<rect x="1645" y="383" width="2" height="1" fill="#000"/>
<rect x="1645" y="416" width="2" height="1" fill="#000"/>
<rect x="1645" y="450" width="2" height="1" fill="#000"/>
<rect x="1645" y="483" width="2" height="1" fill="#000"/>
<rect x="1645" y="516" width="2" height="1" fill="#000"/>
<rect x="1645" y="549" width="2" height="1" fill="#000"/>
<rect x="1645" y="582" width="2" height="1" fill="#000"/>
</g>
<text x="1649.6" y="56" textLength="33.6" lengthAdjust="spacingAndGlyphs" font-size="10.0px" fill="#000" stroke="#000" stroke-width="0.2">1.25835</text>
<text x="1649.6" y="89" textLength="33.6" lengthAdjust="spacingAndGlyphs" font-size="10.0px" fill="#000" stroke="#000" stroke-width="0.2">1.25690</text>
<text x="1649.6" y="122" textLength="33.6" lengthAdjust="spacingAndGlyphs" font-size="10.0px" fill="#000" stroke="#000" stroke-width="0.2">1.25540</text>
<text x="1649.6" y="155" textLength="33.6" lengthAdjust="spacingAndGlyphs" font-size="10.0px" fill="#000" stroke="#000" stroke-width="0.2">1.25395</text>
<text x="1649.6" y="188" textLength="33.6" lengthAdjust="spacingAndGlyphs" font-size="10.0px" fill="#000" stroke="#000" stroke-width="0.2">1.25245</text>
<text x="1649.6" y="222" textLength="33.6" lengthAdjust="spacingAndGlyphs" font-size="10.0px" fill="#000" stroke="#000" stroke-width="0.2">1.25095</text>
<text x="1649.6" y="255" textLength="33.6" lengthAdjust="spacingAndGlyphs" font-size="10.0px" fill="#000" stroke="#000" stroke-width="0.2">1.24950</text>
<text x="1649.6" y="288" textLength="33.6" lengthAdjust="spacingAndGlyphs" font-size="10.0px" fill="#000" stroke="#000" stroke-width="0.2">1.24800</text>
<text x="1649.6" y="321" textLength="33.6" lengthAdjust="spacingAndGlyphs" font-size="10.0px" fill="#000" stroke="#000" stroke-width="0.2">1.24650</text>
<text x="1649.6" y="354" textLength="33.6" lengthAdjust="spacingAndGlyphs" font-size="10.0px" fill="#000" stroke="#000" stroke-width="0.2">1.24500</text>
<text x="1649.6" y="387" textLength="33.6" lengthAdjust="spacingAndGlyphs" font-size="10.0px" fill="#000" stroke="#000" stroke-width="0.2">1.24355</text>
<text x="1649.6" y="420" textLength="33.6" lengthAdjust="spacingAndGlyphs" font-size="10.0px" fill="#000" stroke="#000" stroke-width="0.2">1.24210</text>
<text x="1649.6" y="454" textLength="33.6" lengthAdjust="spacingAndGlyphs" font-size="10.0px" fill="#000" stroke="#000" stroke-width="0.2">1.24060</text>
<text x="1649.6" y="487" textLength="33.6" lengthAdjust="spacingAndGlyphs" font-size="10.0px" fill="#000" stroke="#000" stroke-width="0.2">1.23915</text>
<text x="1649.6" y="520" textLength="33.6" lengthAdjust="spacingAndGlyphs" font-size="10.0px" fill="#000" stroke="#000" stroke-width="0.2">1.23765</text>
<text x="1649.6" y="553" textLength="33.6" lengthAdjust="spacingAndGlyphs" font-size="10.0px" fill="#000" stroke="#000" stroke-width="0.2">1.23620</text>
<text x="1649.6" y="586" textLength="33.6" lengthAdjust="spacingAndGlyphs" font-size="10.0px" fill="#000" stroke="#000" stroke-width="0.2">1.23470</text>
<g shape-rendering="crispEdges">
<rect x="1646" y="217" width="41" height="11" fill="#ff0000"/>
<rect x="1646" y="251" width="41" height="11" fill="#ff0000"/>
<rect x="1646" y="287" width="41" height="11" fill="#ffa000"/>
<rect x="1646" y="310" width="41" height="11" fill="#000000"/>
<rect x="1646" y="344" width="41" height="11" fill="#0000ff"/>
<rect x="1646" y="377" width="41" height="11" fill="#0000ff"/>
</g>
<text x="1649.6" y="226" textLength="33.6" lengthAdjust="spacingAndGlyphs" font-size="10.0px" fill="#fff" stroke="#fff" stroke-width="0.2">1.25072</text>
<text x="1649.6" y="260" textLength="33.6" lengthAdjust="spacingAndGlyphs" font-size="10.0px" fill="#fff" stroke="#fff" stroke-width="0.2">1.24921</text>
<text x="1649.6" y="296" textLength="33.6" lengthAdjust="spacingAndGlyphs" font-size="10.0px" fill="#fff" stroke="#fff" stroke-width="0.2">1.24761</text>
<text x="1649.6" y="319" textLength="33.6" lengthAdjust="spacingAndGlyphs" font-size="10.0px" fill="#fff" stroke="#fff" stroke-width="0.2">1.24664</text>
<text x="1649.6" y="353" textLength="33.6" lengthAdjust="spacingAndGlyphs" font-size="10.0px" fill="#fff" stroke="#fff" stroke-width="0.2">1.24507</text>
<text x="1649.6" y="386" textLength="33.6" lengthAdjust="spacingAndGlyphs" font-size="10.0px" fill="#fff" stroke="#fff" stroke-width="0.2">1.24360</text>
<polygon points="8,32 15,32 11.5,36" fill="#000"/>
<text transform="translate(20.5,37) scale(1.0,1)" font-size="9.3px" fill="#000" stroke="#000" stroke-width="0.2">GBPUSD-,H4</text>
<text transform="translate(83.5,37) scale(0.9677,1)" font-size="9.3px" fill="#000" stroke="#000" stroke-width="0.2">1.24749</text>
<text transform="translate(119.5,37) scale(0.9677,1)" font-size="9.3px" fill="#000" stroke="#000" stroke-width="0.2">1.24754</text>
<text transform="translate(155.5,37) scale(0.9677,1)" font-size="9.3px" fill="#000" stroke="#000" stroke-width="0.2">1.24654</text>
<text transform="translate(191.5,37) scale(0.9677,1)" font-size="9.3px" fill="#000" stroke="#000" stroke-width="0.2">1.24664</text>
<g shape-rendering="crispEdges" clip-path="url(#cmacd)">
<rect x="4" y="633" width="3" height="23" fill="#00ff00"/>
<rect x="20" y="627" width="3" height="29" fill="#00ff00"/>
<rect x="36" y="622" width="3" height="34" fill="#00ff00"/>
<rect x="52" y="616" width="3" height="40" fill="#00ff00"/>
<rect x="68" y="608" width="3" height="48" fill="#00ff00"/>
<rect x="84" y="603" width="3" height="53" fill="#00ff00"/>
<rect x="100" y="600" width="3" height="56" fill="#00ff00"/>
<rect x="116" y="595" width="3" height="61" fill="#00ff00"/>
<rect x="132" y="595" width="3" height="61" fill="#00ff00"/>
<rect x="148" y="601" width="3" height="55" fill="#00ff00"/>
<rect x="164" y="619" width="3" height="37" fill="#00ff00"/>
<rect x="180" y="634" width="3" height="22" fill="#00ff00"/>
<rect x="196" y="648" width="3" height="8" fill="#00ff00"/>
<rect x="212" y="656" width="3" height="4" fill="#00ff00"/>
<rect x="228" y="656" width="3" height="11" fill="#00ff00"/>
<rect x="244" y="656" width="3" height="14" fill="#00ff00"/>
<rect x="260" y="656" width="3" height="28" fill="#00ff00"/>
<rect x="276" y="656" width="3" height="35" fill="#00ff00"/>
<rect x="292" y="656" width="3" height="41" fill="#00ff00"/>
<rect x="308" y="656" width="3" height="43" fill="#00ff00"/>
<rect x="324" y="656" width="3" height="37" fill="#00ff00"/>
<rect x="340" y="656" width="3" height="30" fill="#00ff00"/>
<rect x="356" y="656" width="3" height="27" fill="#00ff00"/>
<rect x="372" y="656" width="3" height="24" fill="#00ff00"/>
<rect x="388" y="656" width="3" height="21" fill="#00ff00"/>
<rect x="404" y="656" width="3" height="20" fill="#00ff00"/>
<rect x="420" y="656" width="3" height="12" fill="#00ff00"/>
<rect x="436" y="656" width="3" height="14" fill="#00ff00"/>
<rect x="452" y="656" width="3" height="11" fill="#00ff00"/>
<rect x="468" y="656" width="3" height="8" fill="#00ff00"/>
<rect x="484" y="656" width="3" height="7" fill="#00ff00"/>
<rect x="500" y="656" width="3" height="6" fill="#00ff00"/>
<rect x="516" y="656" width="3" height="7" fill="#00ff00"/>
<rect x="532" y="656" width="3" height="6" fill="#00ff00"/>
<rect x="548" y="656" width="3" height="2" fill="#00ff00"/>
<rect x="564" y="656" width="3" height="1" fill="#00ff00"/>
<rect x="580" y="655" width="3" height="1" fill="#00ff00"/>
<rect x="596" y="654" width="3" height="2" fill="#00ff00"/>
<rect x="612" y="656" width="3" height="5" fill="#00ff00"/>
<rect x="628" y="656" width="3" height="10" fill="#00ff00"/>
<rect x="644" y="656" width="3" height="10" fill="#00ff00"/>
<rect x="660" y="656" width="3" height="8" fill="#00ff00"/>
<rect x="676" y="656" width="3" height="2" fill="#00ff00"/>
<rect x="692" y="656" width="3" height="2" fill="#00ff00"/>
<rect x="708" y="656" width="3" height="1" fill="#00ff00"/>
<rect x="724" y="654" width="3" height="2" fill="#00ff00"/>
<rect x="740" y="650" width="3" height="6" fill="#00ff00"/>
<rect x="756" y="642" width="3" height="14" fill="#00ff00"/>
<rect x="772" y="634" width="3" height="22" fill="#00ff00"/>
<rect x="788" y="630" width="3" height="26" fill="#00ff00"/>
<rect x="804" y="631" width="3" height="25" fill="#00ff00"/>
<rect x="820" y="637" width="3" height="19" fill="#00ff00"/>
<rect x="836" y="648" width="3" height="8" fill="#00ff00"/>
<rect x="852" y="656" width="3" height="1" fill="#00ff00"/>
<rect x="868" y="656" width="3" height="5" fill="#00ff00"/>
<rect x="884" y="656" width="3" height="8" fill="#00ff00"/>
<rect x="900" y="656" width="3" height="2" fill="#00ff00"/>
<rect x="916" y="651" width="3" height="5" fill="#00ff00"/>
<rect x="932" y="644" width="3" height="12" fill="#00ff00"/>
<rect x="948" y="642" width="3" height="14" fill="#00ff00"/>
<rect x="964" y="640" width="3" height="16" fill="#00ff00"/>
<rect x="980" y="638" width="3" height="18" fill="#00ff00"/>
<rect x="996" y="638" width="3" height="18" fill="#00ff00"/>
<rect x="1012" y="636" width="3" height="20" fill="#00ff00"/>
<rect x="1028" y="636" width="3" height="20" fill="#00ff00"/>
<rect x="1044" y="633" width="3" height="23" fill="#00ff00"/>
<rect x="1060" y="629" width="3" height="27" fill="#00ff00"/>
<rect x="1076" y="627" width="3" height="29" fill="#00ff00"/>
<rect x="1092" y="626" width="3" height="30" fill="#00ff00"/>
<rect x="1108" y="630" width="3" height="26" fill="#00ff00"/>
<rect x="1124" y="614" width="3" height="42" fill="#00ff00"/>
<rect x="1140" y="605" width="3" height="51" fill="#00ff00"/>
<rect x="1156" y="599" width="3" height="57" fill="#00ff00"/>
<rect x="1172" y="594" width="3" height="62" fill="#00ff00"/>
<rect x="1188" y="596" width="3" height="60" fill="#00ff00"/>
<rect x="1204" y="600" width="3" height="56" fill="#00ff00"/>
<rect x="1220" y="609" width="3" height="47" fill="#00ff00"/>
<rect x="1236" y="617" width="3" height="39" fill="#00ff00"/>
<rect x="1252" y="625" width="3" height="31" fill="#00ff00"/>
<rect x="1268" y="629" width="3" height="27" fill="#00ff00"/>
<rect x="1284" y="634" width="3" height="22" fill="#00ff00"/>
<rect x="1300" y="640" width="3" height="16" fill="#00ff00"/>
<rect x="1316" y="646" width="3" height="10" fill="#00ff00"/>
<rect x="1332" y="650" width="3" height="6" fill="#00ff00"/>
<rect x="1348" y="655" width="3" height="1" fill="#00ff00"/>
<polyline points="5,654.7 21,650.6 37,646.8 53,641.7 69,635 85,628.9 101,622.1 117,616 133,611.2 149,607.2 165,606.9 181,607.9 197,611 213,617 229,624 245,632.5 261,641.2 277,651 293,662.2 309,671.4 325,678.2 341,681.8 357,684.3 373,686.2 389,686.8 405,686.5 421,683.1 437,680 453,677.3 469,673.5 485,671.5 501,669.5 517,667.7 533,665.8 549,663.4 565,662 581,660.3 597,658.9 613,658.9 629,659.7 645,659.7 661,659.7 677,658.9 693,658.9 709,658.9 725,658.9 741,658.9 749,658.6 757,657.2 773,652.4 789,649.2 805,646.3 821,643.4 837,642.6 853,641.7 869,643 885,644 901,645.6 917,647.8 933,650 949,650.6 965,650.9 981,650.6 997,648.4 1013,646.2 1029,643.9 1045,640.6 1061,637.3 1077,636.5 1093,634.7 1109,633.5 1125,630.7 1141,626.9 1157,622.4 1173,617.5 1189,613.3 1205,610.3 1221,608.2 1237,607.9 1253,607 1269,608.2 1285,612 1301,616.1 1317,621.1 1333,627.7 1349,634" fill="none" stroke="#ff0000" stroke-width="2"/>
</g>
<text x="8.9" y="600" textLength="66.2" lengthAdjust="spacingAndGlyphs" font-size="9.3px" fill="#000" stroke="#000" stroke-width="0.2">MACD(12,26,9)</text>
<text x="77.6" y="600" textLength="39.0" lengthAdjust="spacingAndGlyphs" font-size="9.3px" fill="#000" stroke="#000" stroke-width="0.2">0.000028</text>
<text x="119.0" y="600" textLength="38.0" lengthAdjust="spacingAndGlyphs" font-size="9.3px" fill="#000" stroke="#000" stroke-width="0.2">0.001026</text>
<g shape-rendering="crispEdges">
<rect x="1645" y="589" width="1" height="1" fill="#000"/>
<rect x="1645" y="656" width="1" height="1" fill="#000"/>
<rect x="1645" y="703" width="1" height="1" fill="#000"/>
</g>
<text x="1647.7" y="598" textLength="38.6" lengthAdjust="spacingAndGlyphs" font-size="10.0px" fill="#000" stroke="#000" stroke-width="0.2">0.003181</text>
<text x="1647.7" y="660" textLength="18.4" lengthAdjust="spacingAndGlyphs" font-size="10.0px" fill="#000" stroke="#000" stroke-width="0.2">0.00</text>
<text x="1647.7" y="701" textLength="36.8" lengthAdjust="spacingAndGlyphs" font-size="10.0px" fill="#000" stroke="#000" stroke-width="0.2">-0.00226</text>
<text x="8.6" y="719" textLength="33.3" lengthAdjust="spacingAndGlyphs" font-size="9.3px" fill="#000" stroke="#000" stroke-width="0.2">RSI(14)</text>
<text x="43.4" y="719" textLength="34.0" lengthAdjust="spacingAndGlyphs" font-size="9.3px" fill="#000" stroke="#000" stroke-width="0.2">44.0178</text>
<g shape-rendering="crispEdges">
<line x1="6" y1="732.5" x2="1644" y2="732.5" stroke="#000" stroke-width="1" stroke-dasharray="3 3"/>
<line x1="6" y1="768.5" x2="1644" y2="768.5" stroke="#000" stroke-width="1" stroke-dasharray="3 3"/>
<line x1="6" y1="811.5" x2="1644" y2="811.5" stroke="#000" stroke-width="1" stroke-dasharray="3 3"/>
</g>
<g shape-rendering="crispEdges" clip-path="url(#crsi)">
<polyline points="5,752.8 21,753.7 37,752.3 53,750.3 69,745.7 85,746.5 101,746.5 117,744.9 133,749.9 149,762.3 165,780.8 181,781.3 197,782.6 213,782.6 229,780 245,776.8 261,789.1 277,783.8 293,783.8 309,781.8 325,768.9 341,766.9 357,770.5 373,770.5 389,769.4 405,770.5 421,761.8 437,773.5 453,767.2 469,767.2 485,768.9 501,769.2 517,770.5 533,769.2 549,764.7 565,766.9 581,767.2 597,767.2 613,777.7 629,777.7 645,771 661,768.9 677,763.9 693,767.2 709,767.2 725,765.9 741,760.3 757,754 773,750.7 789,754.8 805,763.1 821,772.2 837,779.6 853,778.5 869,776.3 885,774.3 901,762.3 917,759.3 933,757.6 949,763.1 965,761.9 981,762.3 997,763.6 1013,761 1029,763.1 1045,757.3 1061,757 1077,757.6 1093,757.8 1109,765.9 1125,743.7 1141,748.7 1157,749.5 1173,748.7 1189,758.6 1205,762.3 1221,768.6 1237,769.2 1253,770.5 1269,768.9 1285,769.7 1301,771.9 1317,773.5 1333,773.8 1349,775.8" fill="none" stroke="#1e90ff" stroke-width="2"/>
</g>
<g shape-rendering="crispEdges">
<rect x="1645" y="708" width="1" height="1" fill="#000"/>
<rect x="1645" y="829" width="1" height="1" fill="#000"/>
</g>
<text x="1647.4" y="717" textLength="16.2" lengthAdjust="spacingAndGlyphs" font-size="10.0px" fill="#000" stroke="#000" stroke-width="0.2">100</text>
<text x="1646.8" y="736" textLength="10.6" lengthAdjust="spacingAndGlyphs" font-size="10.0px" fill="#000" stroke="#000" stroke-width="0.2">80</text>
<text x="1646.8" y="772" textLength="10.6" lengthAdjust="spacingAndGlyphs" font-size="10.0px" fill="#000" stroke="#000" stroke-width="0.2">50</text>
<text x="1646.8" y="815" textLength="10.6" lengthAdjust="spacingAndGlyphs" font-size="10.0px" fill="#000" stroke="#000" stroke-width="0.2">15</text>
<text x="1647.3" y="827" textLength="5.6" lengthAdjust="spacingAndGlyphs" font-size="10.0px" fill="#000" stroke="#000" stroke-width="0.2">0</text>
<g shape-rendering="crispEdges">
<rect x="5" y="831" width="1" height="3" fill="#000"/>
<rect x="69" y="831" width="1" height="3" fill="#000"/>
<rect x="133" y="831" width="1" height="3" fill="#000"/>
<rect x="197" y="831" width="1" height="3" fill="#000"/>
<rect x="261" y="831" width="1" height="3" fill="#000"/>
<rect x="325" y="831" width="1" height="3" fill="#000"/>
<rect x="389" y="831" width="1" height="3" fill="#000"/>
<rect x="453" y="831" width="1" height="3" fill="#000"/>
<rect x="517" y="831" width="1" height="3" fill="#000"/>
<rect x="581" y="831" width="1" height="3" fill="#000"/>
<rect x="645" y="831" width="1" height="3" fill="#000"/>
<rect x="709" y="831" width="1" height="3" fill="#000"/>
<rect x="773" y="831" width="1" height="3" fill="#000"/>
<rect x="837" y="831" width="1" height="3" fill="#000"/>
<rect x="901" y="831" width="1" height="3" fill="#000"/>
<rect x="965" y="831" width="1" height="3" fill="#000"/>
<rect x="1029" y="831" width="1" height="3" fill="#000"/>
<rect x="1093" y="831" width="1" height="3" fill="#000"/>
<rect x="1157" y="831" width="1" height="3" fill="#000"/>
<rect x="1221" y="831" width="1" height="3" fill="#000"/>
<rect x="1285" y="831" width="1" height="3" fill="#000"/>
<rect x="1349" y="831" width="1" height="3" fill="#000"/>
</g>
<text x="4.0" y="843" textLength="50.3" lengthAdjust="spacingAndGlyphs" font-size="9.3px" fill="#000" stroke="#000" stroke-width="0.2">12 Apr 2023</text>
<text x="68.0" y="843" textLength="54.199999999999996" lengthAdjust="spacingAndGlyphs" font-size="9.3px" fill="#000" stroke="#000" stroke-width="0.2">13 Apr 12:00</text>
<text x="132.0" y="843" textLength="54.199999999999996" lengthAdjust="spacingAndGlyphs" font-size="9.3px" fill="#000" stroke="#000" stroke-width="0.2">14 Apr 04:00</text>
<text x="196.0" y="843" textLength="54.199999999999996" lengthAdjust="spacingAndGlyphs" font-size="9.3px" fill="#000" stroke="#000" stroke-width="0.2">16 Apr 23:00</text>
<text x="260.0" y="843" textLength="54.199999999999996" lengthAdjust="spacingAndGlyphs" font-size="9.3px" fill="#000" stroke="#000" stroke-width="0.2">17 Apr 12:00</text>
<text x="324.0" y="843" textLength="54.199999999999996" lengthAdjust="spacingAndGlyphs" font-size="9.3px" fill="#000" stroke="#000" stroke-width="0.2">18 Apr 04:00</text>
<text x="388.0" y="843" textLength="54.199999999999996" lengthAdjust="spacingAndGlyphs" font-size="9.3px" fill="#000" stroke="#000" stroke-width="0.2">18 Apr 20:00</text>
<text x="452.0" y="843" textLength="54.199999999999996" lengthAdjust="spacingAndGlyphs" font-size="9.3px" fill="#000" stroke="#000" stroke-width="0.2">19 Apr 12:00</text>
<text x="516.0" y="843" textLength="54.199999999999996" lengthAdjust="spacingAndGlyphs" font-size="9.3px" fill="#000" stroke="#000" stroke-width="0.2">20 Apr 04:00</text>
<text x="580.0" y="843" textLength="54.199999999999996" lengthAdjust="spacingAndGlyphs" font-size="9.3px" fill="#000" stroke="#000" stroke-width="0.2">20 Apr 20:00</text>
<text x="644.0" y="843" textLength="54.199999999999996" lengthAdjust="spacingAndGlyphs" font-size="9.3px" fill="#000" stroke="#000" stroke-width="0.2">21 Apr 12:00</text>
<text x="708.0" y="843" textLength="54.199999999999996" lengthAdjust="spacingAndGlyphs" font-size="9.3px" fill="#000" stroke="#000" stroke-width="0.2">24 Apr 04:00</text>
<text x="772.0" y="843" textLength="54.199999999999996" lengthAdjust="spacingAndGlyphs" font-size="9.3px" fill="#000" stroke="#000" stroke-width="0.2">24 Apr 20:00</text>
<text x="836.0" y="843" textLength="54.199999999999996" lengthAdjust="spacingAndGlyphs" font-size="9.3px" fill="#000" stroke="#000" stroke-width="0.2">25 Apr 12:00</text>
<text x="900.0" y="843" textLength="54.199999999999996" lengthAdjust="spacingAndGlyphs" font-size="9.3px" fill="#000" stroke="#000" stroke-width="0.2">26 Apr 04:00</text>
<text x="964.0" y="843" textLength="54.199999999999996" lengthAdjust="spacingAndGlyphs" font-size="9.3px" fill="#000" stroke="#000" stroke-width="0.2">26 Apr 20:00</text>
<text x="1028.0" y="843" textLength="54.199999999999996" lengthAdjust="spacingAndGlyphs" font-size="9.3px" fill="#000" stroke="#000" stroke-width="0.2">27 Apr 12:00</text>
<text x="1092.0" y="843" textLength="54.199999999999996" lengthAdjust="spacingAndGlyphs" font-size="9.3px" fill="#000" stroke="#000" stroke-width="0.2">28 Apr 04:00</text>
<text x="1156.0" y="843" textLength="54.199999999999996" lengthAdjust="spacingAndGlyphs" font-size="9.3px" fill="#000" stroke="#000" stroke-width="0.2">30 Apr 23:00</text>
<text x="1220.0" y="843" textLength="53.4" lengthAdjust="spacingAndGlyphs" font-size="9.3px" fill="#000" stroke="#000" stroke-width="0.2">1 May 12:00</text>
<text x="1284.0" y="843" textLength="53.4" lengthAdjust="spacingAndGlyphs" font-size="9.3px" fill="#000" stroke="#000" stroke-width="0.2">2 May 04:00</text>
<text x="1348.0" y="843" textLength="53.4" lengthAdjust="spacingAndGlyphs" font-size="9.3px" fill="#000" stroke="#000" stroke-width="0.2">2 May 20:00</text>
</g>
</svg>
</body></html>
